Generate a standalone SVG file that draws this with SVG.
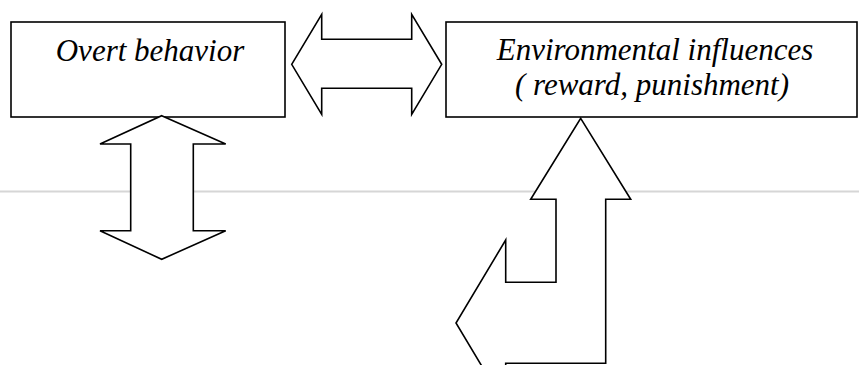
<svg xmlns="http://www.w3.org/2000/svg" width="859" height="365" viewBox="0 0 859 365">
<style>
.box{fill:#fff;stroke:#000;stroke-width:1.6}
.arr{fill:#fff;stroke:#000;stroke-width:1.6;stroke-linejoin:miter}
.lbl{font-family:'Liberation Serif','Times New Roman',serif;font-style:italic;font-size:31px;fill:#000;text-anchor:middle}
</style>
<rect width="859" height="365" fill="#fff"/>
<line x1="0" y1="191.5" x2="859" y2="191.5" stroke="#d6d6d6" stroke-width="2"/>
<g id="overt-behavior">
<rect class="box" x="11" y="22" width="274" height="95"/>
<text class="lbl" x="150" y="61">Overt behavior</text>
</g>
<g id="environmental-influences">
<rect class="box" x="446" y="22" width="411" height="95"/>
<text class="lbl" x="655" y="60">Environmental influences</text>
<text class="lbl" x="652" y="95">( reward, punishment)</text>
</g>
<g id="connectors">
<path class="arr" d="M291.7,64.3 L321.7,14.3 L321.7,39.3 L411.7,39.3 L411.7,14.3 L441.7,64.3 L411.7,114.3 L411.7,88.3 L321.7,88.3 L321.7,114.3 Z"/>
<path class="arr" d="M161.7,115.7 L225.7,144 L193.3,144 L193.3,230.7 L225.7,230.7 L161.7,259.3 L100,230.7 L130.7,230.7 L130.7,144 L100,144 Z"/>
<path class="arr" d="M580.7,118.3 L630.7,199.3 L605.7,199.3 L605.7,363.3 L505.7,363.3 L505.7,406 L456,323 L505.7,240 L505.7,282.3 L556,282.3 L556,199.3 L530.7,199.3 Z"/>
</g>
</svg>
